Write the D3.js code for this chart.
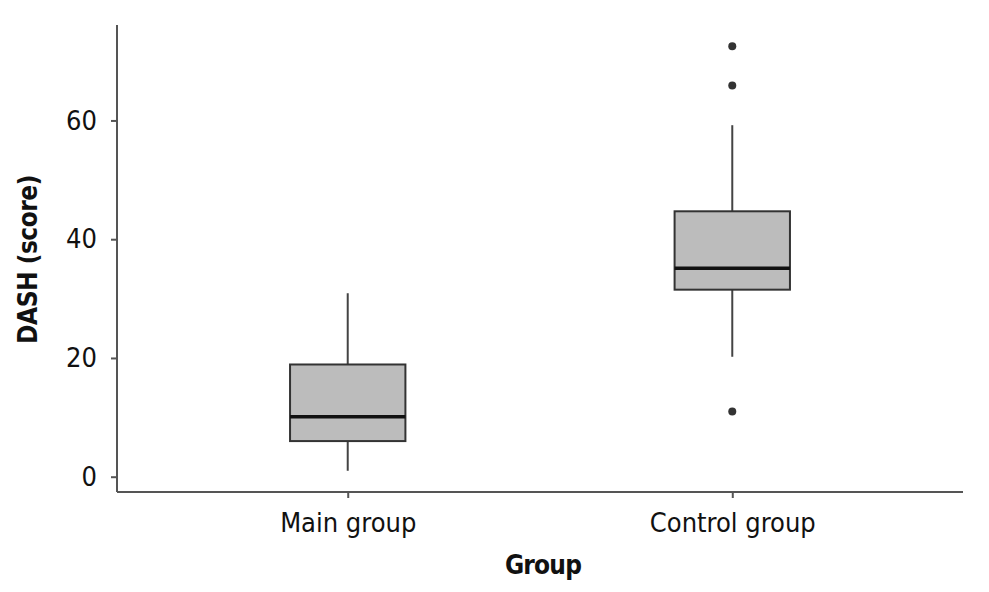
<!DOCTYPE html>
<html><head><meta charset="utf-8">
<script src="https://cdn.jsdelivr.net/npm/d3@7"></script>
<style>
body{margin:0;background:#fff;}
text{font-family:"DejaVu Sans Condensed","Liberation Sans Narrow","Roboto",sans-serif;font-stretch:condensed;}
</style></head>
<body><svg id="c" width="989" height="592"></svg>
<script>
const categories = ["Main group", "Control group"];
const whiskerLow = [1, 20.2];
const q1 = [6, 31.5];
const median = [10.1, 35.1];
const q3 = [18.9, 44.7];
const whiskerHigh = [30.9, 59.2];
const outliers = [[], [72.5, 65.9, 11]];
const yTicks = [0, 20, 40, 60];

(function () {
const svg = d3.select("#c");
const mLeft = 117, mRight = 963, mTop = 25, mBottom = 492;
const x = d3.scalePoint().domain(categories).range([mLeft, mRight]).padding(0.6);
const y = d3.scaleLinear().domain([-2.575, 76.075]).range([mBottom, mTop]);
const boxW = x.step() * 0.3;

const data = categories.map((c, i) => ({c, lo: whiskerLow[i], q1: q1[i], med: median[i], q3: q3[i], hi: whiskerHigh[i], out: outliers[i]}));

const g = svg.append("g");
data.forEach(d => {
  const cx = x(d.c);
  g.append("line").attr("x1", cx).attr("x2", cx).attr("y1", y(d.q3)).attr("y2", y(d.hi)).attr("stroke", "#444").attr("stroke-width", 2);
  g.append("line").attr("x1", cx).attr("x2", cx).attr("y1", y(d.q1)).attr("y2", y(d.lo)).attr("stroke", "#444").attr("stroke-width", 2);
  g.append("rect").attr("x", cx - boxW / 2).attr("width", boxW).attr("y", y(d.q3)).attr("height", y(d.q1) - y(d.q3))
    .attr("fill", "#bcbcbc").attr("stroke", "#333").attr("stroke-width", 2);
  g.append("line").attr("x1", cx - boxW / 2).attr("x2", cx + boxW / 2).attr("y1", y(d.med)).attr("y2", y(d.med)).attr("stroke", "#111").attr("stroke-width", 3.5);
  d.out.forEach(v => g.append("circle").attr("cx", cx).attr("cy", y(v)).attr("r", 4).attr("fill", "#333"));
});

const yAxis = svg.append("g").attr("transform", `translate(${mLeft},0)`)
  .call(d3.axisLeft(y).tickValues(yTicks).tickSize(6).tickPadding(14).tickSizeOuter(0));
const xAxis = svg.append("g").attr("transform", `translate(0,${mBottom})`)
  .call(d3.axisBottom(x).tickSize(6).tickPadding(15).tickSizeOuter(0));
[yAxis, xAxis].forEach(a => {
  a.select(".domain").attr("stroke", "#555").attr("stroke-width", 2);
  a.selectAll(".tick line").attr("stroke", "#555").attr("stroke-width", 2);
  a.selectAll(".tick text").attr("fill", "#111").style("font-size", "27px");
});
yAxis.select(".domain").attr("d", `M0,${mTop}V${mBottom}`);
xAxis.select(".domain").attr("d", `M${mLeft},0H${mRight}`);

svg.append("text").attr("x", (mLeft + mRight) / 2 + 3).attr("y", 574).attr("text-anchor", "middle")
  .style("font-size", "26px").style("font-weight", "bold").style("letter-spacing", "-0.8px").attr("fill", "#111").text("Group");
svg.append("text").attr("transform", `translate(37,${(mTop + mBottom) / 2 + 1}) rotate(-90)`).attr("text-anchor", "middle")
  .style("font-size", "26px").style("font-weight", "bold").style("letter-spacing", "-0.5px").attr("fill", "#111").text("DASH (score)");
})();
</script></body></html>
